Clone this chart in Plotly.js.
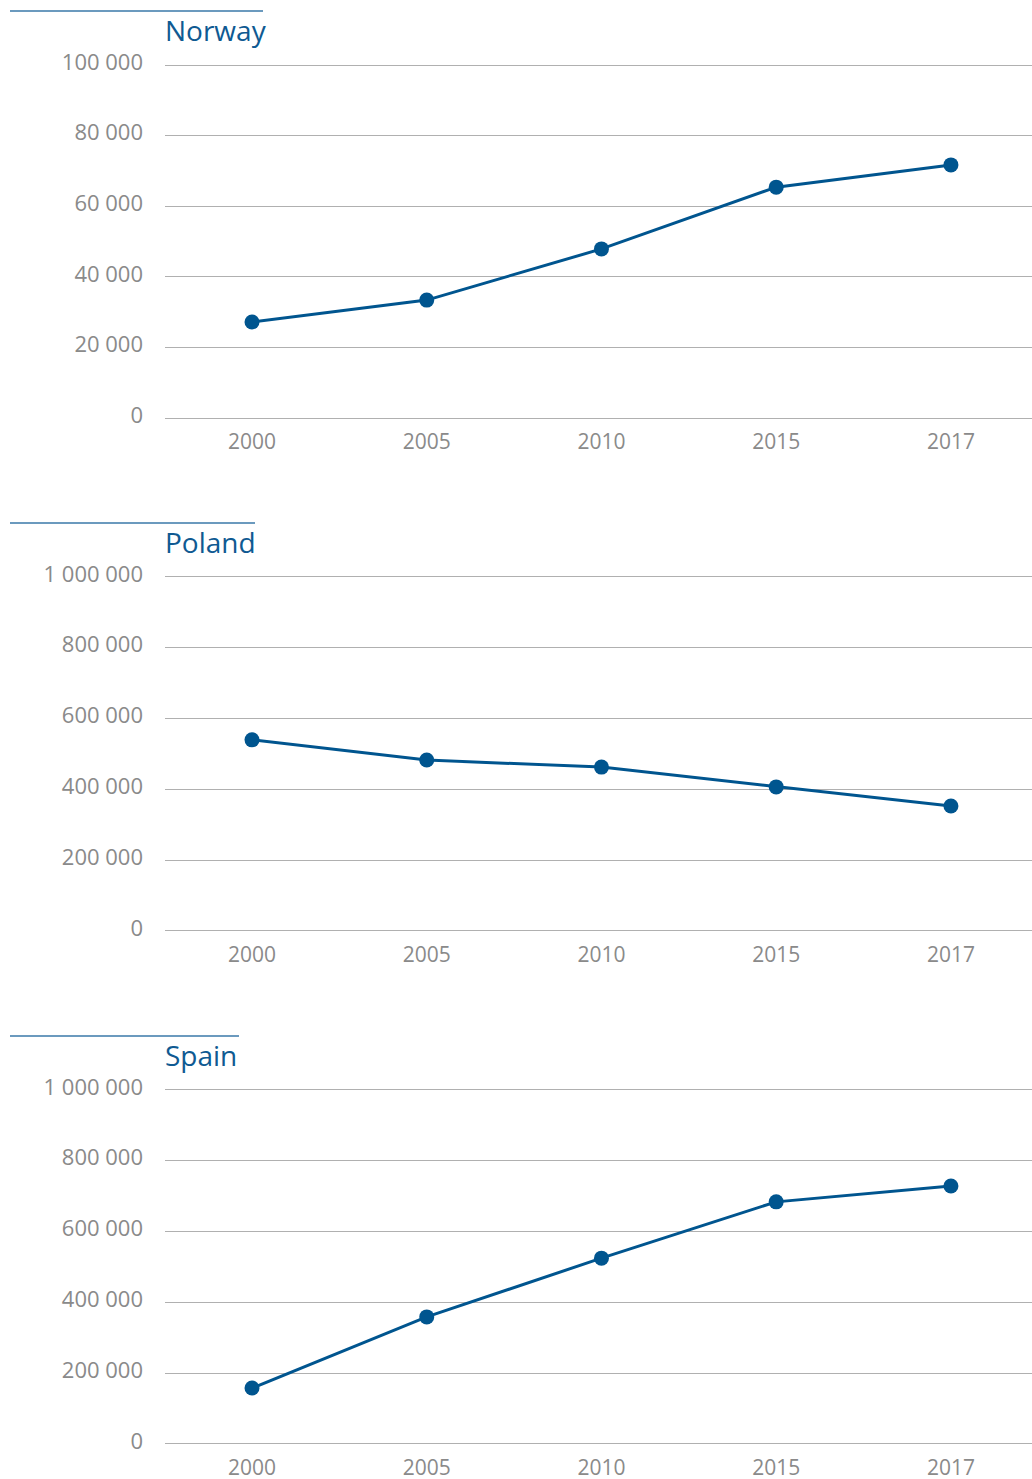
<!DOCTYPE html>
<html>
<head>
<meta charset="utf-8">
<script src="https://cdn.plot.ly/plotly-3.0.1.min.js"></script>
<style>html,body{margin:0;padding:0;background:#fff}#chart{width:1032px;height:1479px}</style>
</head>
<body>
<div id="chart"></div>
<script>
const years = ["2000", "2005", "2010", "2015", "2017"];
const norway = [27200, 33400, 47900, 65400, 71700];
const poland = [540000, 483000, 463000, 407000, 353000];
const spain = [158000, 359000, 525000, 684000, 729000];
const countries = ["Norway", "Poland", "Spain"];
const norwayTicks = [0, 20000, 40000, 60000, 80000, 100000];
const millionTicks = [0, 200000, 400000, 600000, 800000, 1000000];

const W = 1032, H = 1479;
const BLUE = "#00558f";
const TITLE_BLUE = "#0f5a92";
const GRID = "#b0b0b0";
const TICK = "#8a8a8a";
const FONT = "'Open Sans', Roboto, sans-serif";

const panels = [
  {top: 65, bottom: 418, lineY: 11, lineEnd: 263, max: 100000, ticks: norwayTicks, data: norway},
  {top: 577, bottom: 931, lineY: 523, lineEnd: 255, max: 1000000, ticks: millionTicks, data: poland},
  {top: 1090, bottom: 1444, lineY: 1036, lineEnd: 239, max: 1000000, ticks: millionTicks, data: spain}
];

const fy = px => 1 - px / H;
const fx = px => px / W;
const PAD = 0.006;

const traces = [];
const layout = {
  width: W, height: H,
  margin: {l: 0, r: 0, t: 0, b: 0},
  paper_bgcolor: "#fff", plot_bgcolor: "#fff",
  showlegend: false,
  separators: ". ",
  font: {family: FONT, color: TICK, size: 22},
  annotations: [], shapes: []
};

panels.forEach((p, i) => {
  const n = i === 0 ? "" : String(i + 1);
  const padPx = PAD * (p.bottom - p.top);
  traces.push({
    type: "scatter", mode: "lines+markers",
    x: years, y: p.data,
    xaxis: "x" + n, yaxis: "y" + n,
    line: {color: BLUE, width: 3},
    marker: {color: BLUE, size: 15},
    hoverinfo: "skip", cliponaxis: false
  });
  layout["xaxis" + n] = {
    type: "category", domain: [fx(165), 1], anchor: "y" + n,
    range: [-0.498, 4.464],
    showgrid: false, zeroline: false, showline: false, ticks: "",
    tickfont: {family: FONT, color: TICK, size: 21},
    ticklabelstandoff: 7, fixedrange: true
  };
  layout["yaxis" + n] = {
    domain: [fy(p.bottom + padPx), fy(p.top - padPx)], anchor: "x" + n,
    range: [-PAD * p.max, (1 + PAD) * p.max], tickvals: p.ticks, tickformat: ",d",
    showgrid: true, gridcolor: GRID, gridwidth: 1,
    zeroline: false,
    showline: false, ticks: "",
    tickfont: {family: FONT, color: TICK, size: 22},
    ticklabelstandoff: 21, ticklabelshift: -3, fixedrange: true
  };
  layout.annotations.push({
    text: countries[i], xref: "paper", yref: "paper",
    x: fx(163), y: fy(p.lineY + 19), xanchor: "left", yanchor: "middle",
    showarrow: false, font: {family: FONT, color: TITLE_BLUE, size: 28}
  });
  layout.shapes.push({
    type: "line", xref: "paper", yref: "paper",
    x0: fx(10), x1: fx(p.lineEnd), y0: fy(p.lineY), y1: fy(p.lineY),
    line: {color: "#3a78a8", width: 1.5}
  });
});

Plotly.newPlot("chart", traces, layout, {displayModeBar: false, staticPlot: true});
</script>
</body>
</html>
